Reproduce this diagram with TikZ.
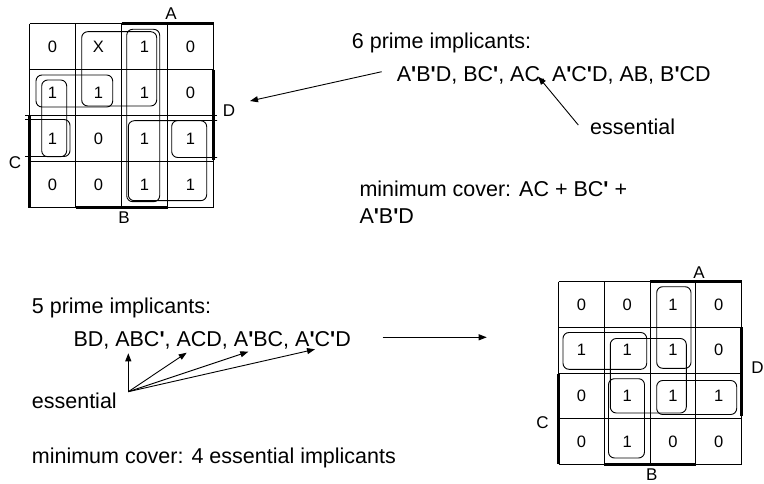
\documentclass[tikz,border=0pt]{standalone}
\usepackage{fontspec}
\setmainfont{Liberation Sans}
\usetikzlibrary{arrows.meta}
\newcommand\pp{{\bfseries\textquotesingle}}
\begin{document}
\begin{tikzpicture}[x=1pt,y=-1pt,
  gridline/.style={line width=1pt},
  bar/.style={line width=3pt},
  loopbox/.style={line width=0.9pt, rounded corners=6pt},
  cell/.style={font=\fontsize{16.5}{16.5}\selectfont, inner sep=0pt},
  lbl/.style={font=\fontsize{17}{17}\selectfont, inner sep=0pt},
  txt/.style={font=\fontsize{21.5}{21.5}\selectfont, inner sep=0pt, anchor=base west},
  arr/.style={-{Triangle[length=8pt,width=6pt]}, line width=0.9pt}]
\useasboundingbox (0,0) rectangle (764,484);

% ---------------- top-left K-map ----------------
\foreach \i in {0,...,4} {
  \draw[gridline] ({29.5+46*\i},24) -- ({29.5+46*\i},208);
}
\draw[gridline] (29.5,24) -- (213.5,24);
\draw[gridline] (29.5,70) -- (213.5,70);
\draw[gridline] (25,116) -- (217,116);
\draw[gridline] (29.5,162) -- (213.5,162);
\draw[gridline] (29.5,208) -- (213.5,208);
\draw[bar] (121.5,24) -- (213.5,24);
\draw[bar] (213.5,70) -- (213.5,160);
\draw[bar] (29.5,116) -- (29.5,208);
\draw[bar] (75.5,208) -- (167.5,208);
\node[lbl] (tlA) at (171,14) {A};
\node[lbl] (tlB) at (124,218) {B};
\node[lbl] (tlC) at (15,163) {C};
\node[lbl] (tlD) at (229,111) {D};
\foreach \r/\row in {0/{0,X,1,0},1/{1,1,1,0},2/{1,0,1,1},3/{0,0,1,1}} {
  \foreach \v [count=\c from 0] in \row {
    \node[cell] (tl\r\c) at ({29.5+46*\c+23},{24+46*\r+23}) {\v};
  }
}
\draw[loopbox] (81.7,31.7) rectangle (156.7,106);   % BC'
\draw[loopbox] (126.7,29.3) rectangle (159.7,201.7); % AB
\draw[loopbox] (128.3,120.7) rectangle (206.7,200.7); % AC
\draw[loopbox] (36,75) rectangle (112.7,107);       % A'C'D
\draw[loopbox] (41.7,80) rectangle (66.7,156.7);    % A'B'D
\draw[loopbox] (25,119.5) -- (70,119.5) -- (70,156.5) -- (25,156.5);   % B'CD left
\draw[loopbox] (217,120.5) -- (171.7,120.5) -- (171.7,157.5) -- (217,157.5); % B'CD right

% ---------------- top-right text ----------------
\node[txt] (t1) at (351.7,48.5) {6 prime implicants:};
\node[txt] (t2) at (396.7,81.7) {A\pp B\pp D, BC\pp, AC, A\pp C\pp D, AB, B\pp CD};
\node[txt] (ess1) at (590,135) {essential};
\node[txt] (min1) at (359.3,196.7) {minimum cover: AC + BC\pp\ +};
\node[txt] (min1b) at (359.3,223.3) {A\pp B\pp D};
\coordinate (a1s) at (381.7,71.7);
\coordinate (a1e) at (250,101);
\coordinate (a2s) at (578.3,125);
\coordinate (a2e) at (538.3,76.7);
\draw[arr] (a1s) -- (a1e);
\draw[arr] (a2s) -- (a2e);

% ---------------- bottom-left text ----------------
\node[txt] (t3) at (31.7,313.3) {5 prime implicants:};
\node[txt] (t4) at (73.3,346.7) {BD, ABC\pp, ACD, A\pp BC, A\pp C\pp D};
\node[txt] (ess2) at (31.7,408.3) {essential};
\node[txt] (min2) at (31.7,463.3) {minimum cover: 4 essential implicants};
\coordinate (e0) at (128.3,391.7);
\coordinate (e1) at (128.3,353.3);
\coordinate (e2) at (186.7,352.7);
\coordinate (e3) at (248.3,351.7);
\coordinate (e4) at (315,349.3);
\foreach \k in {1,2,3,4} { \draw[arr] (e0) -- (e\k); }
\coordinate (hs) at (382.7,337.3);
\coordinate (he) at (486.7,337.3);
\draw[arr] (hs) -- (he);

% ---------------- bottom-right K-map ----------------
\foreach \i in {0,...,4} {
  \draw[gridline] ({558.5+45.8*\i},281.7) -- ({558.5+45.8*\i},464.3);
  \draw[gridline] (558.5,{281.7+45.65*\i}) -- (741.7,{281.7+45.65*\i});
}
\draw[bar] (650.1,281.7) -- (741.7,281.7);
\draw[bar] (741.7,327) -- (741.7,416);
\draw[bar] (558.5,373.6) -- (558.5,464.3);
\draw[bar] (604.3,464.3) -- (695.9,464.3);
\node[lbl] (brA) at (699,273) {A};
\node[lbl] (brB) at (651.7,475) {B};
\node[lbl] (brC) at (542.5,422.5) {C};
\node[lbl] (brD) at (757.5,367.5) {D};
\foreach \r/\row in {0/{0,0,1,0},1/{1,1,1,0},2/{0,1,1,1},3/{0,1,0,0}} {
  \foreach \v [count=\c from 0] in \row {
    \node[cell] (br\r\c) at ({558.5+45.8*\c+22.9},{281.7+45.65*\r+22.8}) {\v};
  }
}
\draw[loopbox] (656.7,286.7) rectangle (691,368.3);   % ABC'
\draw[loopbox] (563,332.5) rectangle (646.7,369.3);   % A'C'D
\draw[loopbox] (610.3,338.5) rectangle (686.3,413);   % BD
\draw[loopbox] (656.7,380.5) rectangle (736.7,414.5); % ACD
\draw[loopbox] (608.5,378.7) rectangle (644.5,458);   % A'BC
\end{tikzpicture}
\end{document}
